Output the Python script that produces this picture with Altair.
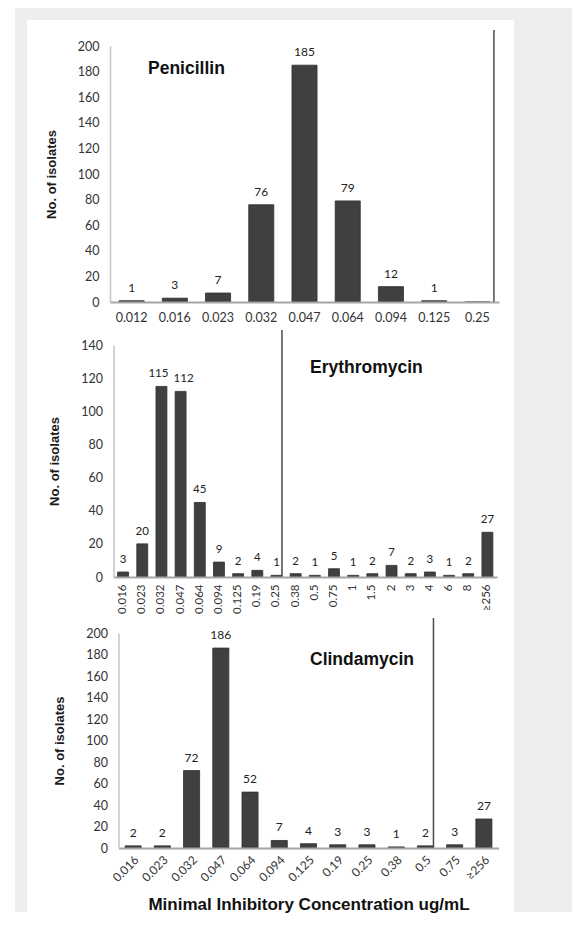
import altair as alt
import pandas as pd

# ---------------- data ----------------
pen_mic = ["0.012", "0.016", "0.023", "0.032", "0.047", "0.064", "0.094", "0.125", "0.25"]
pen_n = [1, 3, 7, 76, 185, 79, 12, 1, 0]

ery_mic = ["0.016", "0.023", "0.032", "0.047", "0.064", "0.094", "0.125", "0.19", "0.25",
           "0.38", "0.5", "0.75", "1", "1.5", "2", "3", "4", "6", "8", "≥256"]
ery_n = [3, 20, 115, 112, 45, 9, 2, 4, 1, 2, 1, 5, 1, 2, 7, 2, 3, 1, 2, 27]

cli_mic = ["0.016", "0.023", "0.032", "0.047", "0.064", "0.094", "0.125", "0.19", "0.25",
           "0.38", "0.5", "0.75", "≥256"]
cli_n = [2, 2, 72, 186, 52, 7, 4, 3, 3, 1, 2, 3, 27]

pen_ticks = list(range(0, 201, 20))
ery_ticks = list(range(0, 141, 20))
cli_ticks = list(range(0, 201, 20))

drug_names = ["Penicillin", "Erythromycin", "Clindamycin"]
breakpoints = ["0.25", "0.25", "0.5"]
y_title = "No. of isolates"
x_title = "Minimal Inhibitory Concentration ug/mL"

# ---------------- style ----------------
BAR = "#404040"
BAR_EDGE = "#2e2e2e"
GRAY = "#eeeeee"
NUM_FONT = "Lato"
TXT_FONT = "Liberation Sans"
W = 389


def panel(name, mics, counts, ticks, height, x_range, pad_in, pad_out, y_off,
          brk, brk_dx, rule_top, angle, lab_size, lab_pad, txt_size,
          title_x, title_y, gray_top, card_top, paint_bottom, xtitle=None,
          nudges=None):
    nudges = nudges or {}
    df = pd.DataFrame({"mic": mics, "n": counts})
    base = alt.Chart(df)
    xscale = alt.Scale(domain=mics, range=x_range, paddingInner=pad_in, paddingOuter=pad_out)
    xaxis_kw = dict(labelAngle=angle, labelFont=NUM_FONT, labelFontSize=lab_size,
                    labelColor="#333333", labelPadding=lab_pad, labelOverlap=False,
                    ticks=False, grid=False, domainColor="#a6a6a6", domainWidth=2,
                    zindex=1)
    if xtitle:
        xaxis_kw.update(title=xtitle, titleFont=TXT_FONT, titleFontWeight="bold",
                        titleFontSize=17, titleColor="#111111", titlePadding=13)
    else:
        xaxis_kw.update(title=None)
    x = alt.X("mic:N", scale=xscale, axis=alt.Axis(**xaxis_kw))
    y = alt.Y("n:Q", scale=alt.Scale(domain=[0, ticks[-1]], nice=False),
              axis=alt.Axis(values=ticks, title=y_title, titleFont=TXT_FONT,
                            titleFontWeight="bold", titleFontSize=13, titleColor="#1a1a1a",
                            titlePadding=19, labelFont=NUM_FONT, labelFontSize=12.5,
                            labelColor="#333333", labelPadding=11, labelOverlap=False,
                            ticks=False, grid=False, domainColor="#c4c4c4",
                            domainWidth=1.5, offset=y_off, zindex=1))

    paint = alt.Chart(alt.Data(values=[{"a": 1}]))
    gray = paint.mark_rect(color=GRAY).encode(
        x=alt.value(-95), x2=alt.value(462), y=alt.value(gray_top), y2=alt.value(paint_bottom))
    card = paint.mark_rect(color="white").encode(
        x=alt.value(-83), x2=alt.value(404), y=alt.value(card_top), y2=alt.value(paint_bottom))
    bars = base.mark_bar(color=BAR, stroke=BAR_EDGE, strokeWidth=0.8).encode(x=x, y=y)

    text_kw = dict(baseline="alphabetic", dy=-9, font=NUM_FONT, fontSize=txt_size,
                   color="#222222")
    skip = list(nudges.keys())
    main_filter = "datum.n > 0" + "".join(f" && datum.mic != '{m}'" for m in skip)
    label_layers = [base.transform_filter(main_filter).mark_text(**text_kw).encode(
        x=x, y=y, text="n:Q")]
    for m, d in nudges.items():
        label_layers.append(
            base.transform_filter(f"datum.mic == '{m}'").mark_text(dx=d, **text_kw).encode(
                x=x, y=y, text="n:Q"))

    rule = alt.Chart(pd.DataFrame({"mic": [brk]})).mark_rule(
        color="#4a4a4a", strokeWidth=1.5, xOffset=brk_dx
    ).encode(x=alt.X("mic:N", bandPosition=1, scale=xscale, axis=alt.Axis(**xaxis_kw)),
             y=alt.value(rule_top), y2=alt.value(height))
    title = paint.mark_text(text=name, align="left", baseline="middle", font=TXT_FONT,
                            fontWeight="bold", fontSize=17.5, color="#111111").encode(
        x=alt.value(title_x), y=alt.value(title_y))
    return alt.layer(gray, card, bars, *label_layers, rule, title).properties(
        width=W, height=height)


p1 = panel(drug_names[0], pen_mic, pen_n, pen_ticks, 256, [0, 389], 0.42, 0.21, 0,
           breakpoints[0], 4, -16, 0, 12.5, 9, 12, 38, 23, -38, -26, 283)
p2 = panel(drug_names[1], ery_mic, ery_n, ery_ticks, 232, [3.5, 387], 0.43, 0.215, -3.5,
           breakpoints[1], 0, -15, -90, 11.5, 7, 11.5, 200, 23, -16, -16, 272,
           nudges={"0.032": -3, "0.047": 3})
p3 = panel(drug_names[2], cli_mic, cli_n, cli_ticks, 215, [8.5, 388.5], 0.45, 0.225, -8.5,
           breakpoints[2], 0, -15, -45, 12, 6, 12, 200, 27, -16, -16, 279, xtitle=x_title)

chart = alt.vconcat(p1, p2, p3, spacing=0).properties(
    background="white",
    padding={"left": 7, "top": 0, "right": 0, "bottom": 0},
).configure_view(strokeWidth=0).configure_axisY(labelOverlap=False)

chart.save("out.html", embed_options={"renderer": "svg", "actions": False})
